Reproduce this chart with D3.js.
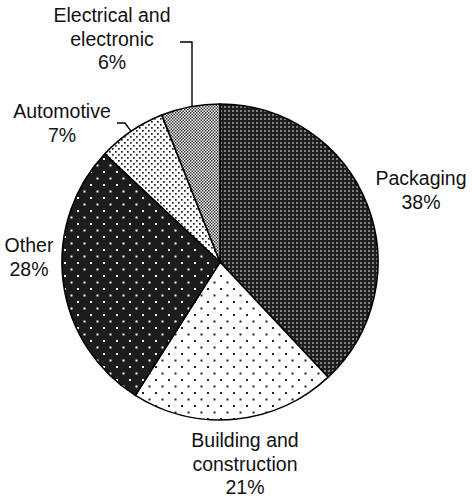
<!DOCTYPE html>
<html>
<head>
<meta charset="utf-8">
<script src="https://cdn.jsdelivr.net/npm/d3@7"></script>
<style>
  body { margin: 0; background: #fff; }
  svg text { font-family: "Liberation Sans", Arial, sans-serif; font-size: 19.5px; fill: #111; }
</style>
</head>
<body>
<svg width="472" height="498"></svg>
<script>
// data, clockwise from 12 o'clock
var categories = ['Packaging', 'Building and construction', 'Other', 'Automotive', 'Electrical and electronic'];
var shares = [38, 21, 28, 7, 6];
var labelLines = [
  ['Packaging', '38%'],
  ['Building and', 'construction', '21%'],
  ['Other', '28%'],
  ['Automotive', '7%'],
  ['Electrical and', 'electronic', '6%']
];

var svg = d3.select('svg');
var cx = 220, cy = 262, r = 158;

// fill patterns
var defs = svg.append('defs');

function pat(id, w, h, bg) {
  var p = defs.append('pattern').attr('id', id)
    .attr('patternUnits', 'userSpaceOnUse')
    .attr('width', w).attr('height', h);
  p.append('rect').attr('width', w).attr('height', h).attr('fill', bg);
  return p;
}
function dot(p, x, y, s, c) {
  p.append('rect').attr('x', x).attr('y', y).attr('width', s).attr('height', s).attr('fill', c);
}

// packaging: dark with grey grid dots
var p0 = pat('p0', 4, 4, '#1e1e1e');
dot(p0, 0, 0, 2, '#808080');

// building: white with sparse staggered dots
var p1 = pat('p1', 13, 13, '#fff');
dot(p1, 0, 0, 2, '#222');
dot(p1, 6.5, 6.5, 2, '#222');

// other: black with white staggered dots
var p2 = pat('p2', 13, 13, '#1c1c1c');
dot(p2, 0, 0, 2, '#fff');
dot(p2, 6.5, 6.5, 2, '#fff');

// automotive: white with denser dots
var p3 = pat('p3', 6, 6, '#fff');
dot(p3, 0, 0, 1.7, '#222');
dot(p3, 3, 3, 1.7, '#222');

// electrical: fine checker
var p4 = pat('p4', 3, 3, '#fff');
dot(p4, 0, 0, 1.5, '#333');
dot(p4, 1.5, 1.5, 1.5, '#333');

var pie = d3.pie().sort(null).value(function(d) { return d; });
var arcs = pie(shares);
var arc = d3.arc().innerRadius(0).outerRadius(r);

var g = svg.append('g').attr('transform', 'translate(' + cx + ',' + cy + ')');

g.selectAll('path.slice')
  .data(arcs)
  .enter()
  .append('path')
  .attr('class', 'slice')
  .attr('d', arc)
  .attr('fill', function(d, i) { return 'url(#p' + i + ')'; })
  .attr('stroke', '#000')
  .attr('stroke-width', 1.6)
  .attr('stroke-linejoin', 'round');

// label anchors (centre x, first baseline)
var labelPos = [
  [421, 185],
  [245, 447],
  [29, 252],
  [62, 118],
  [112, 22]
];
var lh = 23.5;

labelLines.forEach(function(lines, i) {
  var t = svg.append('text')
    .attr('text-anchor', 'middle');
  lines.forEach(function(s, j) {
    t.append('tspan')
      .attr('x', labelPos[i][0])
      .attr('y', labelPos[i][1] + j * lh)
      .text(s);
  });
});

// leader lines
function edge(i, off) {
  var a = arcs[i].startAngle + (arcs[i].endAngle - arcs[i].startAngle) * off;
  return [cx + r * Math.sin(a), cy - r * Math.cos(a)];
}
var line = d3.line();

// electrical: short tick then straight down to rim
var ex = 192;
var ey = cy - Math.sqrt(r * r - (ex - cx) * (ex - cx));
svg.append('path')
  .attr('d', line([[180, 42], [ex, 42], [ex, ey]]))
  .attr('fill', 'none').attr('stroke', '#000').attr('stroke-width', 1.4);

// automotive
var ae = edge(3, 0.5);
svg.append('path')
  .attr('d', line([[117, 123], [125, 123], ae]))
  .attr('fill', 'none').attr('stroke', '#000').attr('stroke-width', 1.4);
</script>
</body>
</html>
